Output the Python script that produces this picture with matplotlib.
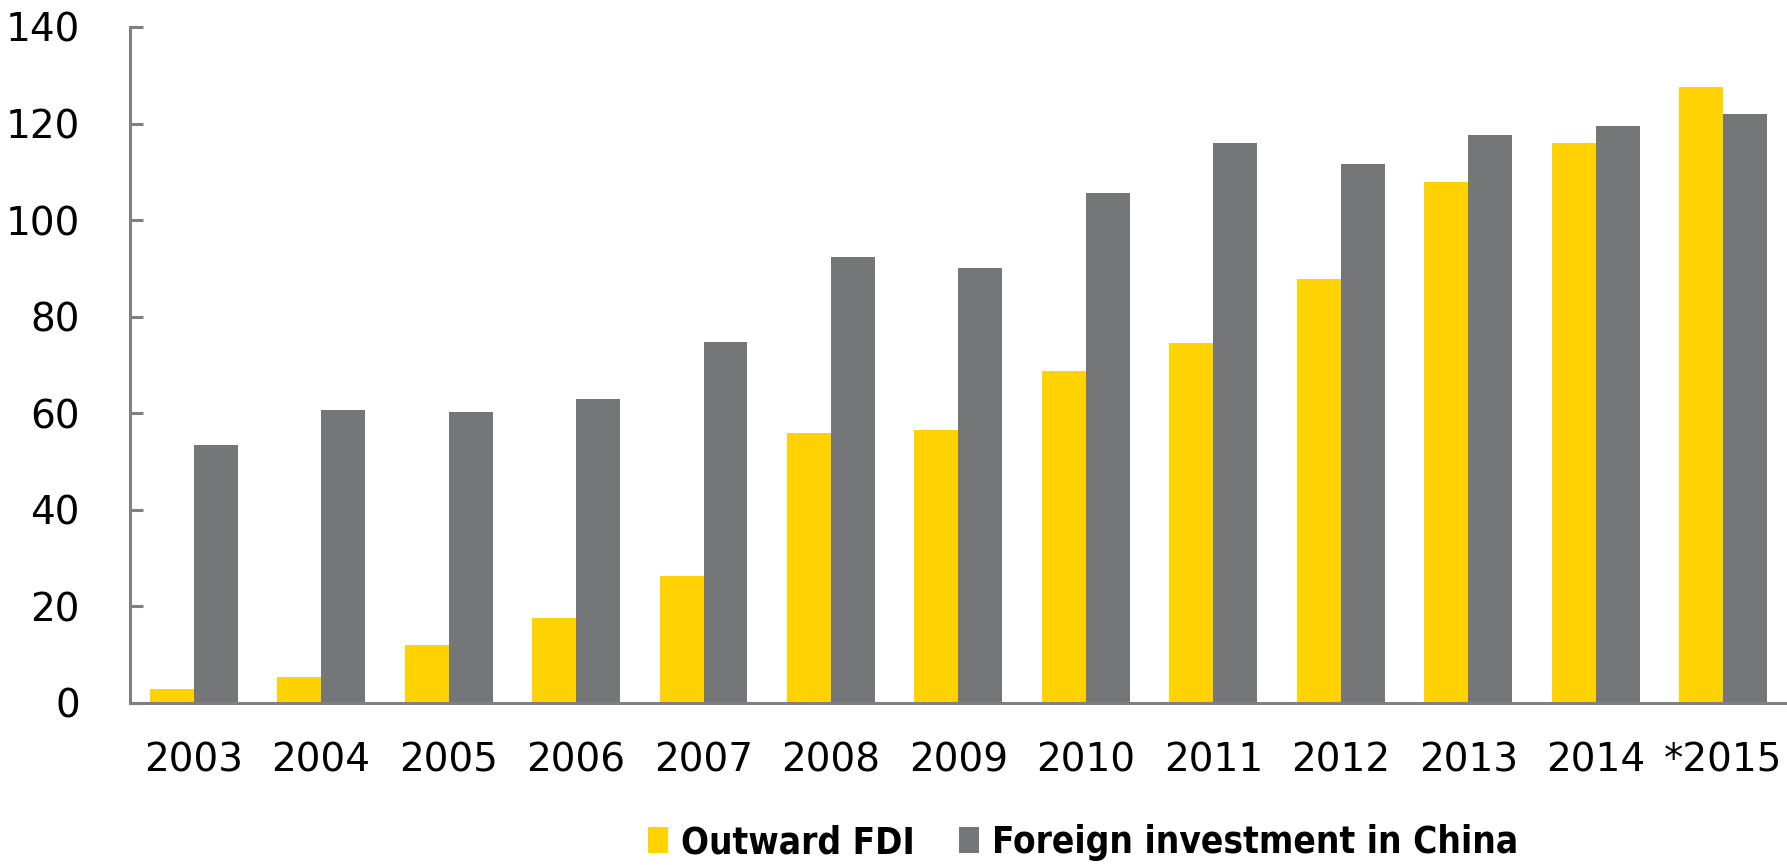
import matplotlib
matplotlib.use('Agg')
import matplotlib.pyplot as plt
from matplotlib.patches import Patch
import numpy as np

## Data (US$ billion)
years = ['2003', '2004', '2005', '2006', '2007', '2008', '2009',
         '2010', '2011', '2012', '2013', '2014', '*2015']
outward_fdi = [2.8, 5.4, 12.1, 17.6, 26.4, 55.9, 56.5,
               68.8, 74.6, 87.8, 107.8, 116.0, 127.6]
foreign_inv = [53.4, 60.6, 60.3, 63.0, 74.7, 92.4, 90.0,
               105.7, 116.0, 111.7, 117.6, 119.5, 122.0]

yellow = '#FFD200'
grey = '#747678'
axis_grey = '#808080'

fig = plt.figure(figsize=(17.87, 8.65), dpi=100)
ax = fig.add_axes([0.0727, 0.1873, 0.9273, 0.7815])

x = np.arange(len(years))
w = 0.345
ax.bar(x - w / 2, outward_fdi, width=w, color=yellow, linewidth=0, label='Outward FDI')
ax.bar(x + w / 2, foreign_inv, width=w, color=grey, linewidth=0, label='Foreign investment in China')

ax.set_xlim(-0.5, len(years) - 0.5)
ax.set_ylim(0, 140)
ax.set_yticks(range(0, 141, 20))
ax.set_xticks(x)
ax.set_xticklabels(years)

for s in ['top', 'right']:
    ax.spines[s].set_visible(False)
for s in ['left', 'bottom']:
    ax.spines[s].set_color(axis_grey)
    ax.spines[s].set_linewidth(2.2)

ax.tick_params(axis='y', direction='in', length=9.5, width=2.2, color=axis_grey,
               labelsize=28, pad=36)
ax.tick_params(axis='x', length=0, labelsize=28, pad=28)

handles = [Patch(facecolor=yellow, label='Outward FDI'),
           Patch(facecolor=grey, label='Foreign investment in China')]
fig.legend(handles=handles, loc='center', bbox_to_anchor=(0.606, 0.026), ncol=2,
           frameon=False, handlelength=0.55, handleheight=0.7, handletextpad=0.35,
           columnspacing=1.2,
           prop={'family': 'DejaVu Sans', 'stretch': 'condensed', 'weight': 'bold', 'size': 26.5})

fig.savefig('out.png', dpi=100)
